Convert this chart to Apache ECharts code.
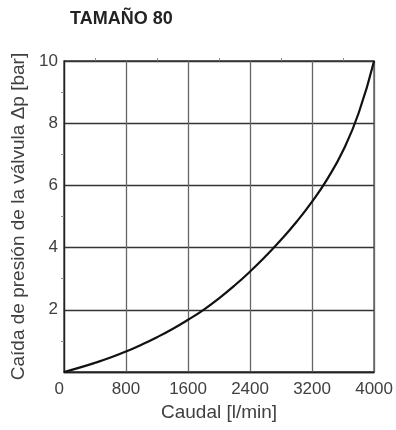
<!DOCTYPE html>
<html>
<head>
<meta charset="utf-8">
<script src="https://cdn.jsdelivr.net/npm/echarts@6/dist/echarts.min.js"></script>
<style>html,body{margin:0;padding:0;background:#fff}#c{width:396px;height:430px}</style>
</head>
<body>
<div id="c"></div>
<script>
var titleText = "TAMAÑO 80";
var xName = "Caudal [l/min]";
var yName = "Caída de presión de la válvula Δp [bar]";
var flow = [0, 200, 400, 600, 800, 1000, 1200, 1400, 1600, 1800, 2000, 2200, 2400, 2600, 2800, 3000, 3200, 3400, 3600, 3800, 4000];
var dp   = [0, 0.14, 0.295, 0.465, 0.66, 0.88, 1.12, 1.385, 1.68, 2.0, 2.37, 2.78, 3.23, 3.72, 4.25, 4.83, 5.48, 6.22, 7.12, 8.32, 10];
var xTicks = [0, 800, 1600, 2400, 3200, 4000];
var yTicks = [2, 4, 6, 8, 10];

var chart = echarts.init(document.getElementById('c'), null, {renderer: 'canvas'});
var lblFont = {fontFamily: 'Liberation Sans', fontSize: 17, color: '#404040'};
var nameFont = {fontFamily: 'Liberation Sans', fontSize: 19, color: '#404040'};
chart.setOption({
  animation: false,
  title: {text: titleText, left: 70, top: 10, padding: 0, textStyle: {fontFamily: 'Liberation Sans', fontWeight: 'bold', fontSize: 18, color: '#222'}},
  grid: {left: 64, top: 61, width: 313, height: 311, show: true, borderColor: '#333', borderWidth: 1.3, backgroundColor: 'transparent'},
  xAxis: [{
    type: 'value', min: 0, max: 4000, interval: 800, position: 'bottom',
    name: xName, nameLocation: 'middle', nameGap: 31, nameTextStyle: nameFont,
    axisLine: {show: true, lineStyle: {color: '#222', width: 1.3}},
    axisTick: {show: false},
    axisLabel: Object.assign({margin: 9, alignMinLabel: 'right', formatter: function(v){return xTicks.indexOf(v) >= 0 ? String(v) : '';}}, lblFont),
    splitLine: {show: true, lineStyle: {color: '#666', width: 1.3}}
  }, {
    type: 'value', min: 0, max: 4000, interval: 800, position: 'top',
    axisLine: {show: false}, axisTick: {show: false}, axisLabel: {show: false}, splitLine: {show: false},
    minorTick: {show: true, splitNumber: 2, length: 3, lineStyle: {color: '#888', width: 1}}
  }],
  yAxis: [{
    type: 'value', min: 0, max: 10, interval: 2,
    name: yName, nameLocation: 'middle', nameGap: 33, nameTextStyle: nameFont,
    axisLine: {show: true, lineStyle: {color: '#222', width: 1.3}},
    axisTick: {show: false},
    minorTick: {show: true, splitNumber: 2, length: 3, lineStyle: {color: '#888', width: 1}},
    axisLabel: Object.assign({margin: 6, formatter: function(v){return yTicks.indexOf(v) >= 0 ? String(v) : '';}}, lblFont),
    splitLine: {show: true, lineStyle: {color: '#333', width: 1.3}}
  }],
  series: [{
    type: 'line', xAxisIndex: 0, yAxisIndex: 0,
    data: flow.map(function(f, i){return [f, dp[i]];}),
    smooth: true, showSymbol: false, symbol: 'none',
    lineStyle: {color: '#111', width: 2.2}
  }]
});
</script>
</body>
</html>
